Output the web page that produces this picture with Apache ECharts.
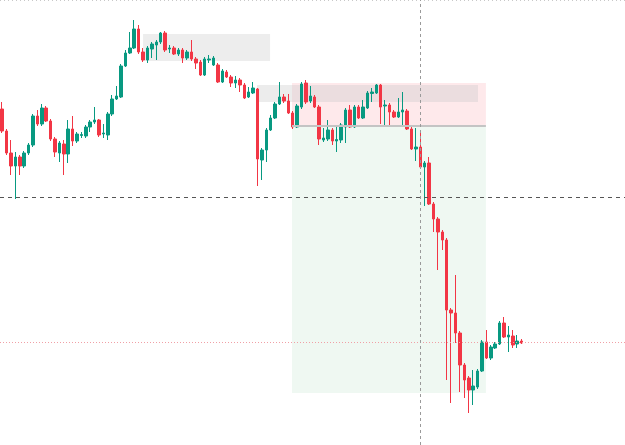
<!DOCTYPE html>
<html>
<head>
<meta charset="utf-8">
<script src="https://cdn.jsdelivr.net/npm/echarts@6/dist/echarts.min.js"></script>
<style>html,body{margin:0;padding:0;background:#fff;}#c{width:625px;height:445px;}</style>
</head>
<body>
<div id="c"></div>
<script>
// OHLC candles: [open, close, low, high]
const candles = [
[391,369,367,398],[369,347,345,371],[347,334,325,360],[334,343,301,348],[343,334,325,345],
[334,347,332,349],[347,355,345,357],[355,384,353,386],[384,376,374,390],[376,392,374,396],
[392,379,378,394],[379,361,359,381],[361,348,343,363],[347,357,338,359],[356,346,325,360],
[346,371,337,380],[371,359,354,384],[359,366,357,368],[364.5,365.5,362,368],[364,373,362,375],
[373,378,368,380],[378,380,376,393],[380,365,363,381],[366,367,362,376],[365,386,360,388],
[386,401,384,405],[401,404,400,414],[403,434,402,436],[434,447,433,450],[447,452,446,468],
[452,471,451,480],[471,448,446,475],[448,440,438,452],[440,452,437,454],[451,456,442,458],
[455,458,440,460],[458,467,456,468],[467,450,448,469],[451,452,447,455],[452,446,445,454],
[446,450,444,452],[450,442,437,452],[442,448,440,450],[448,441,439,460],[441,437,431,443],
[438,425,424,440],[425,441,424,443],[440,441,437,445],[435,442,434,444],[435,418,417,437],
[418,429,417,431],[428,423,422,430],[423,417,413,425],[417,420,412,424],[420,415,408,422],
[415,402,401,417],[403,408,402,413],[407,412,406,418],[411,341,314,412],[340,350,320,352],
[350,370,338,372],[370,382,369,385],[382,396,381,398],[396,403,395,418],[403,399,397,406],
[399,387,386,406],[387,373,371,389],[373,394,372,396],[393,416,391,418],[417,398,396,420],
[399,404,397,414],[403,393,392,405],[393,361,355,395],[360,362,358,372],[361,370,359,380],
[370,359,355,372],[359,360.5,348,375],[360,375,357,377],[373,390,357,392],[390,373,372,395],
[373,393,372,395],[393,382,381,395],[382,393,381,400],[392,407,391,409],[406.5,408,398,412],
[407,415,406,416],[415,393,376,416],[394,395,375,400],[395,388,373,397],[388,383,382,390],
[383,388,382,402],[388,390,375,408],[389,371,370,391],[371,351,350,375],[351,353,339,372],
[353,333,332,367],[333,337,294,339],[337,296,295,343],[296,281,268,298],[281,268,230,283],
[268,260,250,270],[260,190,120,262],[190,187,97,192],[187,167,157,225],[167,135,108,169],
[135,120,102,137],[122,110,87,124],[110,114,95,130],[113,129,111,131],[129,158,128,160],
[158,142,141,170],[142,153,140,155],[152,156,151,158],[156,177,155,179],[177,163,162,183],
[163,165,148,174],[164,155,152,170],[156,159,152,165],[159,157,156,161]
];
const totalSlots = 142;
const categories = Array.from({length: totalSlots}, (_, i) => String(i));
// annotation levels
const entryLevel = 374;      // top of target zone / bottom of stop zone
const stopTop = 417;
const targetBottom = 107;
const supplyTop = 466, supplyBottom = 439;
const bandTop = 415, bandBottom = 398;
const dashedLevel = 303;
const lastPriceLevel = 158;
const crossIndex = 95;

const chart = echarts.init(document.getElementById('c'), null, {renderer: 'canvas'});
const UP = '#089981', DOWN = '#f23645';
chart.setOption({
  animation: false,
  backgroundColor: '#ffffff',
  grid: {left: 0, right: 0, top: 0, bottom: 0},
  xAxis: [
    {type: 'category', data: categories, show: false, boundaryGap: true},
    {type: 'value', min: 0, max: totalSlots, show: false}
  ],
  yAxis: [{type: 'value', min: 55, max: 500, show: false, splitLine: {show: false}}],
  series: [
    {
      type: 'line', xAxisIndex: 1, data: [], z: 1, silent: true,
      markArea: {
        silent: true,
        data: [
          [{xAxis: 32.5, yAxis: supplyTop, itemStyle: {color: 'rgba(225,225,225,0.6)'}}, {xAxis: 61.35, yAxis: supplyBottom}],
          [{xAxis: 66.35, yAxis: stopTop, itemStyle: {color: 'rgba(242,54,69,0.11)'}}, {xAxis: 110.4, yAxis: entryLevel}],
          [{xAxis: 58.4, yAxis: bandTop, itemStyle: {color: 'rgba(200,200,200,0.35)'}}, {xAxis: 108.6, yAxis: bandBottom}],
          [{xAxis: 66.35, yAxis: entryLevel, itemStyle: {color: 'rgba(8,153,60,0.065)'}}, {xAxis: 110.4, yAxis: targetBottom}]
        ]
      },
      markLine: {
        silent: true, symbol: 'none', label: {show: false},
        data: [
          [{coord: [66.35, entryLevel], lineStyle: {color: '#c4c4c4', width: 2, type: 'solid'}}, {coord: [110.4, entryLevel]}]
        ]
      }
    },
    {
      type: 'candlestick',
      data: candles,
      barWidth: 3,
      z: 3,
      itemStyle: {color: UP, color0: DOWN, borderColor: UP, borderColor0: DOWN, borderWidth: 1},
      markLine: {
        silent: true, symbol: 'none', label: {show: false},
        data: [
          {yAxis: dashedLevel, lineStyle: {color: '#555', type: [4, 4], width: 1}},
          {yAxis: lastPriceLevel, lineStyle: {color: '#f0a0a6', type: [1, 2], width: 1}},
          {yAxis: 499.5, lineStyle: {color: '#c8c8c8', type: [1, 3], width: 1}},
          {xAxis: crossIndex, lineStyle: {color: '#9a9a9a', type: [3, 3], width: 1}}
        ]
      }
    }
  ]
});
</script>
</body>
</html>
